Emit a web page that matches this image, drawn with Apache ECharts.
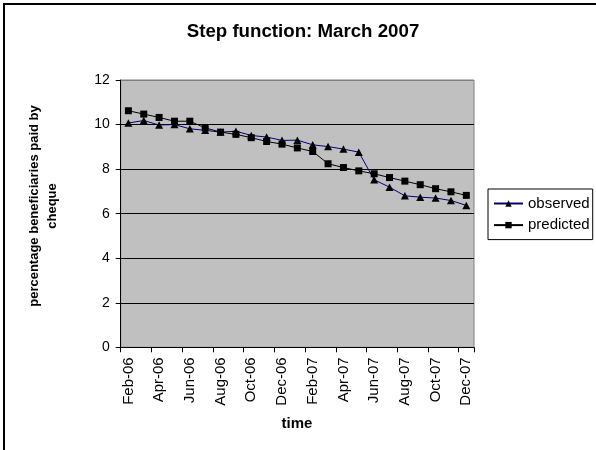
<!DOCTYPE html>
<html>
<head>
<meta charset="utf-8">
<script src="https://cdn.jsdelivr.net/npm/echarts@6/dist/echarts.min.js"></script>
<style>
html,body{margin:0;padding:0;background:#fff;}
#chart{width:596px;height:450px;}
</style>
</head>
<body>
<div id="chart"></div>
<script>
var months = ['Feb-06','Mar-06','Apr-06','May-06','Jun-06','Jul-06','Aug-06','Sep-06','Oct-06','Nov-06','Dec-06','Jan-07',
              'Feb-07','Mar-07','Apr-07','May-07','Jun-07','Jul-07','Aug-07','Sep-07','Oct-07','Nov-07','Dec-07'];
var observed = [10.07,10.18,9.98,10.0,9.81,9.74,9.66,9.7,9.51,9.44,9.29,9.3,
                9.09,9.01,8.9,8.76,7.52,7.19,6.8,6.74,6.7,6.59,6.37];
var predicted = [10.62,10.47,10.32,10.15,10.15,9.85,9.66,9.56,9.41,9.24,9.12,8.95,
                 8.79,8.24,8.07,7.92,7.79,7.62,7.46,7.3,7.12,6.98,6.82];
var yTicks = [0,2,4,6,8,10,12];
var titleText = 'Step function: March 2007';
var yTitle = 'percentage beneficiaries paid by\ncheque';
var xTitle = 'time';
var FONT = 'Arial, "Liberation Sans", sans-serif';

var chart = echarts.init(document.getElementById('chart'), null, {renderer:'canvas'});
chart.setOption({
  animation: false,
  backgroundColor: '#ffffff',
  grid: {
    left: 120.7, top: 80, right: 122, bottom: 102.7,
    show: true, backgroundColor: '#c0c0c0', borderColor: '#808080', borderWidth: 1
  },
  xAxis: {
    type: 'category',
    data: months,
    boundaryGap: true,
    axisLine: {lineStyle: {color: '#000', width: 1}},
    axisTick: {show: true, interval: 1, length: 5, lineStyle: {color: '#000'}},
    axisLabel: {interval: 1, rotate: 90, fontSize: 15, color: '#000', fontFamily: FONT, margin: 10},
    splitLine: {show: false}
  },
  yAxis: {
    type: 'value',
    min: yTicks[0], max: yTicks[yTicks.length-1], interval: 2,
    axisLine: {show: true, lineStyle: {color: '#000', width: 1}},
    axisTick: {show: true, length: 5, lineStyle: {color: '#000'}},
    axisLabel: {fontSize: 14, color: '#000', fontFamily: FONT, margin: 11},
    splitLine: {show: true, lineStyle: {color: ['#000','#000','#000','#000','#000','#000','#808080'], width: 1}}
  },
  legend: {
    orient: 'vertical',
    left: 488, top: 189,
    borderColor: '#000', borderWidth: 1,
    backgroundColor: '#fff',
    padding: [7, 3, 7, 5],
    itemWidth: 29, itemHeight: 8, itemGap: 6.6,
    textStyle: {fontSize: 15, color: '#000', fontFamily: FONT},
    data: ['observed', 'predicted']
  },
  graphic: [
    {type: 'rect', silent: true, z: 100, shape: {x: 4, y: 4, width: 640, height: 500},
     style: {fill: null, stroke: '#000', lineWidth: 2}},
    {type: 'text', x: 303, y: 32, style: {text: titleText, textAlign: 'center', textVerticalAlign: 'middle',
      font: 'bold 18.7px ' + FONT, fill: '#000'}},
    {type: 'text', x: 43.5, y: 206, rotation: Math.PI/2,
     style: {text: yTitle, textAlign: 'center', textVerticalAlign: 'middle', lineHeight: 17.5,
      font: 'bold 13px ' + FONT, fill: '#000'}},
    {type: 'text', x: 297, y: 424, style: {text: xTitle, textAlign: 'center', textVerticalAlign: 'middle',
      font: 'bold 15px ' + FONT, fill: '#000'}}
  ],
  series: [
    {
      name: 'observed', type: 'line', data: observed,
      symbol: 'triangle', symbolSize: [8, 7.5], showSymbol: true,
      lineStyle: {color: '#000080', width: 1},
      itemStyle: {color: '#000', borderColor: '#000', borderWidth: 0}
    },
    {
      name: 'predicted', type: 'line', data: predicted,
      symbol: 'rect', symbolSize: 7, showSymbol: true,
      lineStyle: {color: '#000', width: 1},
      itemStyle: {color: '#000', borderColor: '#000', borderWidth: 0}
    }
  ]
});
</script>
</body>
</html>
